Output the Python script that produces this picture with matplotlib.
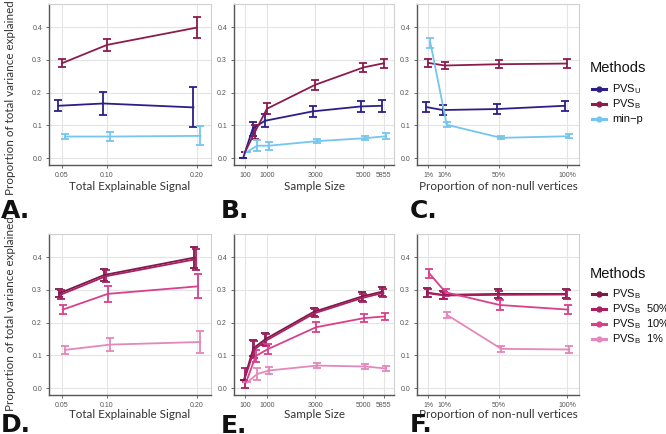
import matplotlib
matplotlib.use('Agg')
import matplotlib.pyplot as plt
import matplotlib.transforms as mtransforms
from matplotlib.lines import Line2D

plt.rcParams['font.family'] = ['Liberation Sans', 'DejaVu Sans']
plt.rcParams['mathtext.fontset'] = 'custom'
plt.rcParams['mathtext.rm'] = 'Liberation Sans'
plt.rcParams['mathtext.it'] = 'Liberation Sans:italic'

# ---- data ----
signal = [0.05, 0.10, 0.20]
sample = [100, 500, 1000, 3000, 5000, 5855]
nonnull_pos = [-2, 10, 50, 100]          # 1% sits a bit left of its linear spot
nonnull_lab = ['1%', '10%', '50%', '100%']

# panel A
a_pvsu = [0.160, 0.167, 0.155]
a_pvsu_err = [0.017, 0.034, 0.061]
a_pvsb = [0.290, 0.346, 0.399]
a_pvsb_err = [0.013, 0.019, 0.032]
a_minp = [0.066, 0.066, 0.068]
a_minp_err = [0.008, 0.015, 0.029]

# panel B
b_pvsu = [0.0, 0.090, 0.114, 0.143, 0.158, 0.160]
b_pvsu_err = [0.0, 0.021, 0.020, 0.017, 0.017, 0.018]
b_pvsb = [0.020, 0.080, 0.151, 0.224, 0.277, 0.290]
b_pvsb_err = [0.0, 0.022, 0.017, 0.015, 0.014, 0.014]
b_minp = [0.020, 0.038, 0.038, 0.052, 0.061, 0.067]
b_minp_err = [0.0, 0.017, 0.012, 0.007, 0.007, 0.009]

# panel C
c_pvsu = [0.156, 0.147, 0.150, 0.160]
c_pvsu_err = [0.014, 0.014, 0.014, 0.016]
c_pvsb = [0.291, 0.283, 0.287, 0.289]
c_pvsb_err = [0.012, 0.010, 0.013, 0.013]
c_minp = [0.352, 0.102, 0.062, 0.067]
c_minp_err = [0.016, 0.007, 0.005, 0.007]

# panel D
d_b = [0.290, 0.346, 0.399]
d_b_err = [0.013, 0.019, 0.032]
d_b50 = [0.286, 0.342, 0.394]
d_b50_err = [0.013, 0.019, 0.032]
d_b10 = [0.240, 0.288, 0.311]
d_b10_err = [0.014, 0.025, 0.037]
d_b1 = [0.117, 0.133, 0.141]
d_b1_err = [0.013, 0.021, 0.034]

# panel E
e_b = [0.024, 0.122, 0.150, 0.233, 0.280, 0.295]
e_b_err = [0.0, 0.025, 0.018, 0.012, 0.013, 0.013]
e_b50 = [0.030, 0.118, 0.146, 0.229, 0.276, 0.291]
e_b50_err = [0.030, 0.025, 0.018, 0.012, 0.013, 0.013]
e_b10 = [0.018, 0.098, 0.119, 0.186, 0.214, 0.219]
e_b10_err = [0.0, 0.018, 0.016, 0.015, 0.012, 0.012]
e_b1 = [0.018, 0.043, 0.054, 0.069, 0.066, 0.060]
e_b1_err = [0.0, 0.019, 0.011, 0.007, 0.007, 0.007]

# panel F
f_b = [0.292, 0.285, 0.288, 0.288]
f_b_err = [0.014, 0.013, 0.014, 0.014]
f_b50 = [0.290, 0.283, 0.285, 0.286]
f_b50_err = [0.013, 0.012, 0.013, 0.013]
f_b10 = [0.351, 0.293, 0.254, 0.240]
f_b10_err = [0.014, 0.011, 0.015, 0.014]
f_b1_pos = [10, 50, 100]
f_b1 = [0.224, 0.120, 0.118]
f_b1_err = [0.010, 0.010, 0.012]

top_labels = ['PVS$_\\mathrm{U}$', 'PVS$_\\mathrm{B}$', 'min\u2212p']
bot_labels = ['PVS$_\\mathrm{B}$', 'PVS$_\\mathrm{B}$  50%', 'PVS$_\\mathrm{B}$  10%',
              'PVS$_\\mathrm{B}$  1%']

col_u = '#2c1f88'
col_b = '#8c1c4e'
col_p = '#74c6ef'
col_d = ['#7d1848', '#a91f62', '#d8408b', '#e487ba']

W, H = 666, 434
fig = plt.figure(figsize=(6.66, 4.34), dpi=100)


def make_ax(x0, y0, x1, y1):
    ax = fig.add_axes([x0 / W, 1 - y1 / H, (x1 - x0) / W, (y1 - y0) / H])
    ax.set_ylim(-0.021, 0.471)
    ax.set_yticks([0.0, 0.1, 0.2, 0.3, 0.4])
    ax.set_yticklabels(['0.0', '0.1', '0.2', '0.3', '0.4'])
    ax.grid(True, color='#e4e4e4', lw=0.8)
    ax.set_axisbelow(True)
    for s in ['top', 'right']:
        ax.spines[s].set_color('#d0d0d0')
        ax.spines[s].set_linewidth(0.8)
    for s in ['left', 'bottom']:
        ax.spines[s].set_color('#555555')
        ax.spines[s].set_linewidth(1.0)
    ax.tick_params(labelsize=5, colors='#555555', length=2, width=0.6, pad=3)
    return ax


def series(ax, x, y, e, color, dx):
    tr = mtransforms.offset_copy(ax.transData, fig=fig, x=dx, y=0, units='dots')
    ax.errorbar(x, y, yerr=e, color=color, lw=1.3, elinewidth=1.3,
                capsize=2.8, capthick=1.3, transform=tr)


top = (4, 165)
bot = (234, 395)
cols = [(49, 211), (234, 394), (417, 579)]

axA = make_ax(cols[0][0], top[0], cols[0][1], top[1])
axB = make_ax(cols[1][0], top[0], cols[1][1], top[1])
axC = make_ax(cols[2][0], top[0], cols[2][1], top[1])
axD = make_ax(cols[0][0], bot[0], cols[0][1], bot[1])
axE = make_ax(cols[1][0], bot[0], cols[1][1], bot[1])
axF = make_ax(cols[2][0], bot[0], cols[2][1], bot[1])

for ax in (axA, axD):
    ax.set_xlim(0.0356, 0.2156)
    ax.set_xticks(signal)
    ax.set_xticklabels(['0.05', '0.10', '0.20'])
for ax in (axB, axE):
    ax.set_xlim(-369, 6275)
    ax.set_xticks([100, 1000, 3000, 5000, 5855])
    ax.set_xticklabels(['100', '1000', '3000', '5000', '5855'])
for ax in (axC, axF):
    ax.set_xlim(-10.4, 108.8)
    ax.set_xticks(nonnull_pos)
    ax.set_xticklabels(nonnull_lab)

series(axA, signal, a_pvsu, a_pvsu_err, col_u, -3.5)
series(axA, signal, a_pvsb, a_pvsb_err, col_b, 0)
series(axA, signal, a_minp, a_minp_err, col_p, 3.5)

series(axB, sample, b_pvsu, b_pvsu_err, col_u, -2.2)
series(axB, sample, b_pvsb, b_pvsb_err, col_b, 0)
series(axB, sample, b_minp, b_minp_err, col_p, 2.2)

series(axC, nonnull_pos, c_pvsu, c_pvsu_err, col_u, -2)
series(axC, nonnull_pos, c_pvsb, c_pvsb_err, col_b, 0)
series(axC, nonnull_pos, c_minp, c_minp_err, col_p, 2)

series(axD, signal, d_b, d_b_err, col_d[0], -2.5)
series(axD, signal, d_b50, d_b50_err, col_d[1], -1)
series(axD, signal, d_b10, d_b10_err, col_d[2], 0.8)
series(axD, signal, d_b1, d_b1_err, col_d[3], 3.3)

series(axE, sample, e_b, e_b_err, col_d[0], -1.5)
series(axE, sample, e_b50, e_b50_err, col_d[1], -0.5)
series(axE, sample, e_b10, e_b10_err, col_d[2], 0.8)
series(axE, sample, e_b1, e_b1_err, col_d[3], 2.2)

series(axF, nonnull_pos, f_b, f_b_err, col_d[0], -1.5)
series(axF, nonnull_pos, f_b50, f_b50_err, col_d[1], -0.5)
series(axF, nonnull_pos, f_b10, f_b10_err, col_d[2], 0.8)
series(axF, f_b1_pos, f_b1, f_b1_err, col_d[3], 2.2)

# axis titles
lab_font = dict(family=['Lato', 'DejaVu Sans'], fontsize=8.4, color='#333333',
                ha='center', va='center')
xlabels = ['Total Explainable Signal', 'Sample Size', 'Proportion of non-null vertices']
for (x0, x1), txt in zip(cols, xlabels):
    fig.text((x0 + x1) / 2 / W, 1 - 187 / H, txt, **lab_font)
    fig.text((x0 + x1) / 2 / W, 1 - 414 / H, txt, **lab_font)
fig.text(11 / W, 1 - 98 / H, 'Proportion of total variance explained', rotation=90, **lab_font)
fig.text(11 / W, 1 - 314 / H, 'Proportion of total variance explained', rotation=90, **lab_font)

# panel letters
let_font = dict(family='DejaVu Sans', fontsize=18, fontweight='heavy', color='#111111',
                ha='left', va='baseline')
for x, y, t in [(1, 218, 'A.'), (221, 218, 'B.'), (410, 218, 'C.'),
                (1, 432, 'D.'), (221, 433, 'E.'), (410, 432, 'F.')]:
    fig.text(x / W, 1 - y / H, t, **let_font)


# legends, drawn by hand in figure pixels
def legend(title_y, entry_y, colors, labels):
    fig.text(590 / W, 1 - title_y / H, 'Methods', fontsize=10.5, color='#111111',
             ha='left', va='center')
    for y, c, t in zip(entry_y, colors, labels):
        fy = 1 - y / H
        fig.add_artist(Line2D([592 / W, 606 / W], [fy, fy], color=c, lw=2.2,
                              transform=fig.transFigure))
        fig.add_artist(Line2D([599 / W], [fy], color=c, marker='o', markersize=3.5,
                              transform=fig.transFigure))
        fig.text(612 / W, fy, t, fontsize=8, color='#111111', ha='left', va='center')


legend(68, [89, 104, 119], [col_u, col_b, col_p], top_labels)
legend(274, [294, 309, 324, 339], col_d, bot_labels)

fig.savefig('out.png', dpi=100)
